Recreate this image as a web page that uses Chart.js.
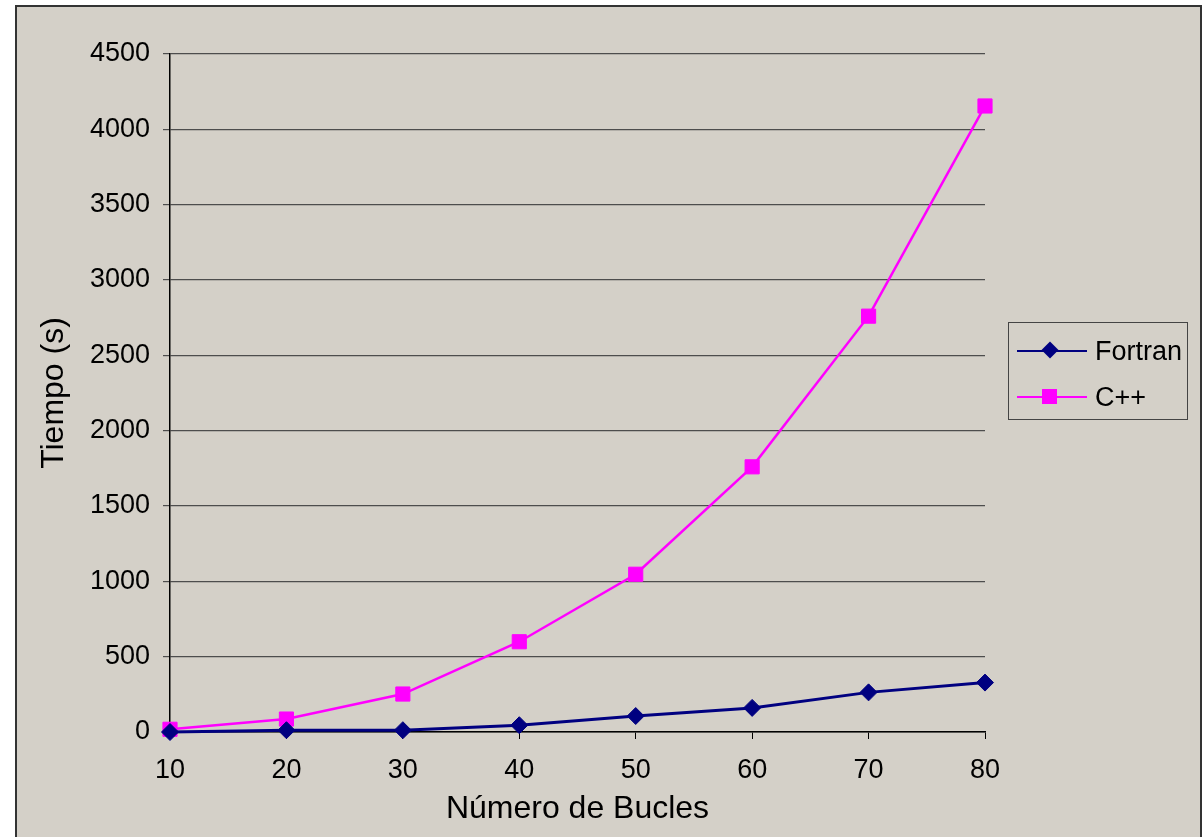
<!DOCTYPE html>
<html>
<head>
<meta charset="utf-8">
<script src="https://cdn.jsdelivr.net/npm/chart.js@4.4.1/dist/chart.umd.min.js"></script>
<style>
  html, body { margin: 0; padding: 0; background: #fff; width: 1203px; height: 837px; overflow: hidden; }
  #frame { position: absolute; left: 15px; top: 5px; width: 1183px; height: 900px; border: 2px solid #333; background: #D4D0C8; }
  #chart { position: absolute; left: 0; top: 0; }
  #legend { position: absolute; left: 1008px; top: 322px; width: 178px; height: 96px; border: 1px solid #444;
            font-family: "Liberation Sans", Arial, sans-serif; font-size: 27px; color: #000; }
  .row { position: absolute; left: 0; height: 32px; width: 100%; }
  .row .ln { position: absolute; left: 8px; width: 70px; top: 15px; height: 2px; }
  .row .mk { position: absolute; }
  .row .tx { position: absolute; left: 86px; top: 0; line-height: 32px; }
</style>
</head>
<body>
<div id="frame"></div>
<canvas id="chart" width="1203" height="837"></canvas>
<div id="legend">
  <div class="row" style="top:12px">
    <div class="ln" style="background:#000080"></div>
    <div class="mk" style="left:35px;top:9px;width:12px;height:12px;background:#000080;transform:rotate(45deg)"></div>
    <div class="tx">Fortran</div>
  </div>
  <div class="row" style="top:58px">
    <div class="ln" style="background:#FF00FF"></div>
    <div class="mk" style="left:33px;top:8px;width:15px;height:15px;background:#FF00FF"></div>
    <div class="tx">C++</div>
  </div>
</div>
<script>
// --- Data ---
const bucles = ['10', '20', '30', '40', '50', '60', '70', '80'];
const fortran = [0, 12, 12, 45, 106, 160, 263, 328];
const cpp = [18, 86, 252, 599, 1047, 1760, 2760, 4155];
const yTicks = [0, 500, 1000, 1500, 2000, 2500, 3000, 3500, 4000, 4500];

const FONT = '"Liberation Sans", Arial, sans-serif';

const ctx = document.getElementById('chart').getContext('2d');

new Chart(ctx, {
  type: 'line',
  data: {
    labels: bucles,
    datasets: [
      {
        label: 'Fortran',
        data: fortran,
        borderColor: '#000080',
        backgroundColor: '#000080',
        borderWidth: 3,
        pointStyle: 'rectRot',
        pointRadius: 8.5,
        pointBorderWidth: 1,
        tension: 0,
        clip: false
      },
      {
        label: 'C++',
        data: cpp,
        borderColor: '#FF00FF',
        backgroundColor: '#FF00FF',
        borderWidth: 2.5,
        pointStyle: 'rect',
        pointRadius: 10,
        pointBorderWidth: 1,
        tension: 0,
        clip: false
      }
    ]
  },
  options: {
    responsive: false,
    animation: false,
    devicePixelRatio: 1,
    layout: { padding: { left: 0, top: 54, right: 218, bottom: 0 } },
    plugins: {
      legend: { display: false },
      tooltip: { enabled: false }
    },
    scales: {
      x: {
        type: 'category',
        offset: false,
        afterFit: (s) => { s.height = 105; },
        border: { color: '#000', width: 1.5 },
        grid: { drawOnChartArea: false, drawTicks: true, tickLength: 7, color: '#000' },
        ticks: { color: '#000', font: { family: FONT, size: 27 }, padding: 15, maxRotation: 0, autoSkip: false },
        title: { display: true, text: 'Número de Bucles', color: '#000', font: { family: FONT, size: 32 }, padding: { bottom: 9 } }
      },
      y: {
        min: 0,
        max: 4500,
        afterFit: (s) => { s.width = 170; },
        afterBuildTicks: (s) => { s.ticks = yTicks.map(v => ({ value: v })); },
        border: { color: '#000', width: 1.5 },
        grid: { color: '#4d4d4d', lineWidth: 1.2, drawTicks: true, tickLength: 7 },
        ticks: { color: '#000', font: { family: FONT, size: 27 }, padding: 13, callback: (v) => String(v) },
        title: { display: true, text: 'Tiempo (s)', color: '#000', font: { family: FONT, size: 32 }, padding: { top: 35 } }
      }
    }
  }
});
</script>
</body>
</html>
